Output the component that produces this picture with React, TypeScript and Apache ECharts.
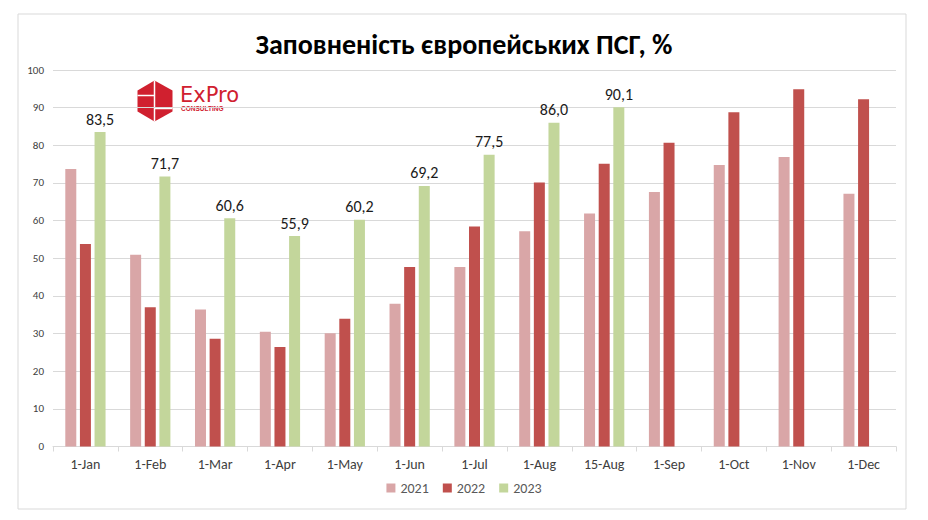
import React, { useEffect, useRef } from "react";
import * as echarts from "echarts";

const categories = ["1-Jan", "1-Feb", "1-Mar", "1-Apr", "1-May", "1-Jun", "1-Jul", "1-Aug", "15-Aug", "1-Sep", "1-Oct", "1-Nov", "1-Dec"];
const values2021 = [73.7, 50.9, 36.4, 30.5, 30.1, 37.9, 47.7, 57.2, 61.9, 67.6, 74.8, 76.9, 67.1];
const values2022 = [53.8, 37.0, 28.6, 26.4, 33.9, 47.7, 58.4, 70.1, 75.1, 80.7, 88.8, 94.9, 92.2];
const values2023 = [83.5, 71.7, 60.6, 55.9, 60.2, 69.2, 77.5, 86.0, 90.1, null, null, null, null];
const seriesNames = ["2021", "2022", "2023"];
const yTicks = { min: 0, max: 100, interval: 10 };
const titleText = "Заповненість європейських ПСГ, %";

const FONT = "Carlito, Lato, 'Open Sans', 'Noto Sans', sans-serif";

export default function App() {
  const ref = useRef<HTMLDivElement>(null);
  useEffect(() => {
    document.body.style.margin = "0";
    if (!ref.current) return;
    const chart = echarts.init(ref.current, null, { renderer: "svg" });
    const barBase = { type: "bar" as const, barWidth: 11, barGap: "33%" };
    chart.setOption({
      animation: false,
      backgroundColor: "#ffffff",
      textStyle: { fontFamily: FONT },
      title: {
        text: titleText,
        left: "center",
        top: 25,
        textStyle: { fontSize: 28, fontWeight: "bold", color: "#000000", fontFamily: FONT },
      },
      legend: {
        data: seriesNames,
        bottom: 20,
        left: "center",
        icon: "rect",
        itemWidth: 9,
        itemHeight: 9,
        itemGap: 14,
        textStyle: { fontSize: 14, color: "#595959", fontFamily: FONT },
      },
      grid: { left: 53, right: 32, top: 70, bottom: 73.5 },
      xAxis: {
        type: "category",
        data: categories,
        axisLine: { lineStyle: { color: "#d9d9d9" } },
        axisTick: { show: true, length: 5, lineStyle: { color: "#d9d9d9" } },
        axisLabel: { fontSize: 14, color: "#404040", margin: 11, fontFamily: FONT },
      },
      yAxis: {
        type: "value",
        min: yTicks.min,
        max: yTicks.max,
        interval: yTicks.interval,
        axisLine: { show: false },
        axisTick: { show: false },
        axisLabel: { fontSize: 11, color: "#404040", margin: 9, fontFamily: FONT },
        splitLine: { lineStyle: { color: "#d9d9d9" } },
      },
      series: [
        { ...barBase, name: seriesNames[0], data: values2021, itemStyle: { color: "#D9A6A7" } },
        { ...barBase, name: seriesNames[1], data: values2022, itemStyle: { color: "#C0504D" } },
        {
          ...barBase,
          name: seriesNames[2],
          data: values2023,
          itemStyle: { color: "#C3D69B" },
          label: {
            show: true,
            position: "top",
            distance: 5,
            fontSize: 16,
            color: "#1a1a1a",
            fontFamily: FONT,
            formatter: (p: any) => (p.value == null ? "" : Number(p.value).toFixed(1).replace(".", ",")),
          },
        },
      ],
      graphic: [
        {
          type: "rect",
          shape: { x: 18, y: 14, width: 888, height: 495 },
          style: { fill: "none", stroke: "#d9d9d9", lineWidth: 1 },
          silent: true,
        },
        {
          type: "group",
          left: 135,
          top: 78,
          children: [
            {
              type: "polygon",
              shape: { points: [[17, 0], [35, 10], [35, 31], [17, 41], [0, 31], [0, 10]] },
              style: { fill: "#D0202F" },
            },
            { type: "line", shape: { x1: 17, y1: 0, x2: 17, y2: 41 }, style: { stroke: "#ffffff", lineWidth: 1.5 } },
            { type: "line", shape: { x1: 0, y1: 15, x2: 17, y2: 15 }, style: { stroke: "#ffffff", lineWidth: 1.5 } },
            { type: "line", shape: { x1: 17, y1: 28, x2: 35, y2: 28 }, style: { stroke: "#ffffff", lineWidth: 1.5 } },
          ],
        },
        {
          type: "text",
          left: 180,
          top: 84,
          style: { text: "ExPro", fontSize: 21, fill: "#D0202F", fontFamily: "'DejaVu Sans', sans-serif" },
        },
        {
          type: "text",
          left: 181,
          top: 105,
          style: { text: "CONSULTING", fontSize: 6.5, fontWeight: "bold", fill: "#D0202F", fontFamily: "'Liberation Sans', sans-serif" },
        },
      ],
    });
    return () => chart.dispose();
  }, []);
  return <div ref={ref} style={{ width: 928, height: 520 }} />;
}
